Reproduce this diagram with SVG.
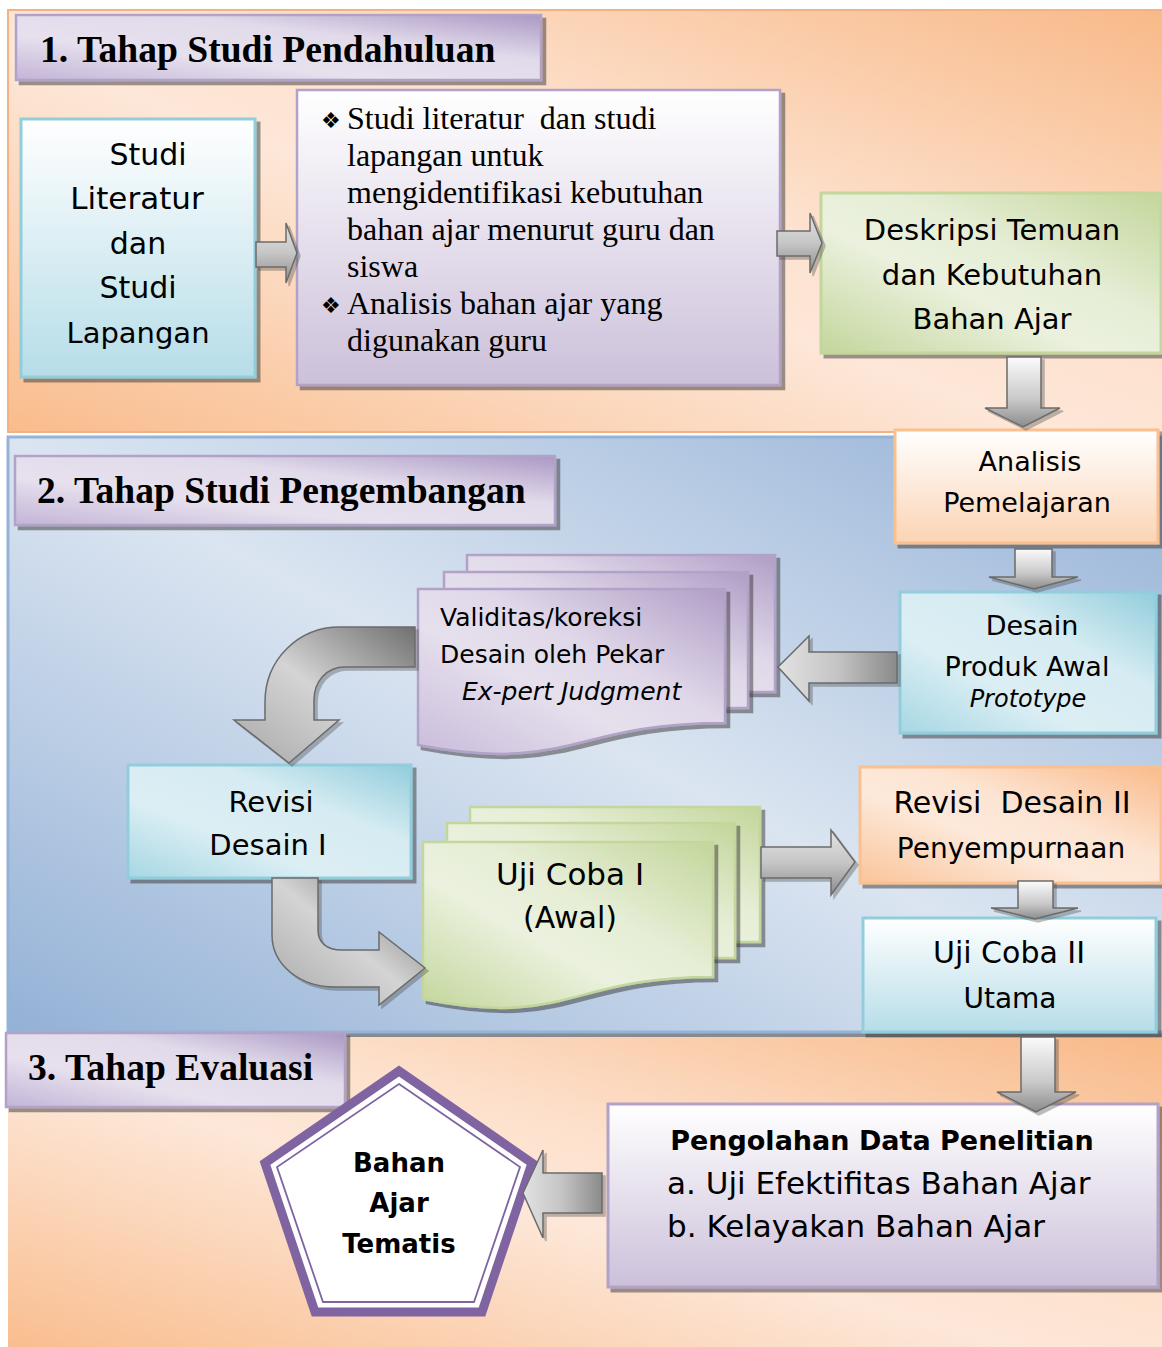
<svg xmlns="http://www.w3.org/2000/svg" width="1162" height="1347" viewBox="0 0 1162 1347">
<defs>
<style>
.hd{font-family:"Liberation Serif",serif;font-weight:bold;font-size:37.6px;fill:#000}
.tm{font-family:"Liberation Serif",serif;font-size:32px;fill:#000;white-space:pre}
.bl{font-family:"DejaVu Sans",sans-serif;font-size:22px}
.c{font-family:"DejaVu Sans",sans-serif;fill:#000;text-anchor:middle;white-space:pre}
.l{font-family:"DejaVu Sans",sans-serif;fill:#000;white-space:pre}
.arr{stroke:#6b6b6b;stroke-width:1.5;stroke-linejoin:miter}
</style>
<filter id="sh" x="-10%" y="-10%" width="125%" height="130%">
<feOffset in="SourceAlpha" dx="4" dy="4" result="o"/>
<feFlood flood-color="#3a3a3a" flood-opacity="0.5"/>
<feComposite in2="o" operator="in"/>
<feMerge><feMergeNode/><feMergeNode in="SourceGraphic"/></feMerge>
</filter>
<filter id="sha" x="-10%" y="-10%" width="130%" height="130%">
<feOffset in="SourceAlpha" dx="3" dy="3" result="o"/>
<feFlood flood-color="#404040" flood-opacity="0.35"/>
<feComposite in2="o" operator="in"/>
<feMerge><feMergeNode/><feMergeNode in="SourceGraphic"/></feMerge>
</filter>
<linearGradient id="gSecOr" x1="0" y1="1" x2="1" y2="0">
<stop offset="0" stop-color="#f9bc8c"/><stop offset="0.45" stop-color="#fde7d8"/><stop offset="0.6" stop-color="#fde1cd"/><stop offset="1" stop-color="#f8b988"/>
</linearGradient>
<linearGradient id="gSecBl" x1="0" y1="1" x2="1" y2="0">
<stop offset="0" stop-color="#93b1d6"/><stop offset="0.5" stop-color="#dbe5f1"/><stop offset="1" stop-color="#93b1d6"/>
</linearGradient>
<linearGradient id="gHead" x1="0" y1="1" x2="1" y2="0">
<stop offset="0" stop-color="#c3b4d7"/><stop offset="0.35" stop-color="#e7e1ee"/><stop offset="0.65" stop-color="#e1daea"/><stop offset="1" stop-color="#ab98c4"/>
</linearGradient>
<linearGradient id="gVPu" x1="0" y1="0" x2="0" y2="1"><stop offset="0" stop-color="#ffffff"/><stop offset="1" stop-color="#ccc0da"/></linearGradient>
<linearGradient id="gVCy" x1="0" y1="0" x2="0" y2="1"><stop offset="0" stop-color="#ffffff"/><stop offset="1" stop-color="#b6dde8"/></linearGradient>
<linearGradient id="gVOr" x1="0" y1="0" x2="0" y2="1"><stop offset="0" stop-color="#ffffff"/><stop offset="1" stop-color="#fbd4b4"/></linearGradient>
<linearGradient id="gDCy" x1="0" y1="1" x2="1" y2="0"><stop offset="0" stop-color="#a6d7e3"/><stop offset="0.35" stop-color="#dbeef4"/><stop offset="0.65" stop-color="#d6ecf2"/><stop offset="1" stop-color="#92cddc"/></linearGradient>
<linearGradient id="gDOr" x1="0" y1="1" x2="1" y2="0"><stop offset="0" stop-color="#fac49a"/><stop offset="0.4" stop-color="#fde9da"/><stop offset="0.6" stop-color="#fde4d2"/><stop offset="1" stop-color="#f9bb8b"/></linearGradient>
<linearGradient id="gDGr" x1="0" y1="1" x2="1" y2="0"><stop offset="0" stop-color="#c3d69b"/><stop offset="0.4" stop-color="#ebf1de"/><stop offset="0.6" stop-color="#e6eed6"/><stop offset="1" stop-color="#c3d69b"/></linearGradient>
<linearGradient id="gDPu" x1="0" y1="1" x2="1" y2="0"><stop offset="0" stop-color="#c9bcdb"/><stop offset="0.4" stop-color="#e6e0ed"/><stop offset="0.6" stop-color="#e0d8e9"/><stop offset="1" stop-color="#b09ec6"/></linearGradient>
<linearGradient id="gArH" x1="0" y1="0" x2="0" y2="1"><stop offset="0" stop-color="#e4e4e4"/><stop offset="0.5" stop-color="#c6c6c6"/><stop offset="1" stop-color="#8c8c8c"/></linearGradient>
<linearGradient id="gArL" x1="0" y1="0" x2="1" y2="0"><stop offset="0" stop-color="#e2e2e2"/><stop offset="0.5" stop-color="#c4c4c4"/><stop offset="1" stop-color="#8a8a8a"/></linearGradient>
<linearGradient id="gArV" x1="0" y1="0" x2="0" y2="1"><stop offset="0" stop-color="#fbfbfb"/><stop offset="0.6" stop-color="#c9c9c9"/><stop offset="1" stop-color="#8c8c8c"/></linearGradient>
<linearGradient id="gArC" x1="1" y1="0" x2="0" y2="1"><stop offset="0" stop-color="#707070"/><stop offset="0.5" stop-color="#d4d4d4"/><stop offset="1" stop-color="#a8a8a8"/></linearGradient>
</defs>

<g id="backgrounds">
<rect x="8" y="10" width="1160" height="422" fill="url(#gSecOr)" stroke="#f4b183" stroke-width="2"/>
<rect x="8" y="1032" width="1160" height="5" fill="#868b92"/>
<rect x="8" y="437" width="1160" height="595" fill="url(#gSecBl)" stroke="#95b3d7" stroke-width="3"/>
<rect x="8" y="1037" width="1160" height="320" fill="url(#gSecOr)"/>
</g>

<g id="header-1">
<rect x="16" y="15" width="525" height="65" fill="url(#gHead)" stroke="#b3a2c7" stroke-width="2.5" filter="url(#sh)"/>
<text class="hd" x="40" y="62">1. Tahap Studi Pendahuluan</text>
</g>

<g id="studi-literatur">
<rect x="21" y="119" width="234" height="258" fill="url(#gVCy)" stroke="#92cddc" stroke-width="3" filter="url(#sh)"/>
<text class="c" font-size="30" x="148" y="165">Studi</text>
<text class="c" font-size="31" x="137" y="209">Literatur</text>
<text class="c" font-size="30" x="138" y="254">dan</text>
<text class="c" font-size="30" x="138" y="298">Studi</text>
<text class="c" font-size="29" x="138" y="343">Lapangan</text>
</g>

<g id="kegiatan">
<rect x="297" y="90" width="483" height="295" fill="url(#gVPu)" stroke="#b3a2c7" stroke-width="2.5" filter="url(#sh)"/>
<text class="bl" x="321" y="128">❖</text>
<text class="tm" x="347" y="129">Studi literatur  dan studi</text>
<text class="tm" x="347" y="166">lapangan untuk</text>
<text class="tm" x="347" y="203">mengidentifikasi kebutuhan</text>
<text class="tm" x="347" y="240">bahan ajar menurut guru dan</text>
<text class="tm" x="347" y="277">siswa</text>
<text class="bl" x="321" y="313">❖</text>
<text class="tm" x="347" y="314">Analisis bahan ajar yang</text>
<text class="tm" x="347" y="351">digunakan guru</text>
</g>

<g id="deskripsi">
<rect x="821" y="193" width="340" height="160" fill="url(#gDGr)" stroke="#c3d69b" stroke-width="3" filter="url(#sh)"/>
<text class="c" font-size="29" x="992" y="240">Deskripsi Temuan</text>
<text class="c" font-size="29" x="992" y="285">dan Kebutuhan</text>
<text class="c" font-size="29" x="992" y="329">Bahan Ajar</text>
</g>

<g id="header-2">
<rect x="15" y="456" width="540" height="69" fill="url(#gHead)" stroke="#b3a2c7" stroke-width="2.5" filter="url(#sh)"/>
<text class="hd" x="37" y="503">2. Tahap Studi Pengembangan</text>
</g>

<g id="analisis">
<rect x="895" y="430" width="263" height="113" fill="url(#gVOr)" stroke="#fac090" stroke-width="3" filter="url(#sh)"/>
<text class="c" font-size="27" x="1030" y="471">Analisis</text>
<text class="c" font-size="27" x="1027" y="512">Pemelajaran</text>
</g>

<g id="desain-produk">
<rect x="900" y="592" width="256" height="141" fill="url(#gDCy)" stroke="#92cddc" stroke-width="3" filter="url(#sh)"/>
<text class="c" font-size="27" x="1032" y="635">Desain</text>
<text class="c" font-size="27" x="1027" y="676">Produk Awal</text>
<text class="c" x="1028" y="707" font-family="Liberation Sans, sans-serif" font-style="italic" font-size="24">Prototype</text>
</g>

<g id="validitas">
<rect x="467" y="555" width="308" height="137" fill="url(#gDPu)" stroke="#b3a2c7" stroke-width="2.5" filter="url(#sh)"/>
<rect x="444" y="572" width="304" height="136" fill="url(#gDPu)" stroke="#b3a2c7" stroke-width="2.5" filter="url(#sh)"/>
<path d="M418,589 H725 V723 C571,723 571,774 418,745 Z" fill="url(#gDPu)" stroke="#b3a2c7" stroke-width="2.5" filter="url(#sh)"/>
<text class="l" font-size="25" x="440" y="626">Validitas/koreksi</text>
<text class="l" font-size="25" x="440" y="663">Desain oleh Pekar</text>
<text class="l" font-size="25" x="462" y="700" font-style="italic">Ex-pert Judgment</text>
</g>

<g id="revisi-desain-1">
<rect x="128" y="765" width="283" height="113" fill="url(#gDCy)" stroke="#92cddc" stroke-width="3" filter="url(#sh)"/>
<text class="c" font-size="29" x="271" y="812">Revisi</text>
<text class="c" font-size="29" x="268" y="855">Desain I</text>
</g>

<g id="uji-coba-1">
<rect x="470" y="807" width="290" height="135" fill="url(#gDGr)" stroke="#c3d69b" stroke-width="2.5" filter="url(#sh)"/>
<rect x="447" y="823" width="288" height="135" fill="url(#gDGr)" stroke="#c3d69b" stroke-width="2.5" filter="url(#sh)"/>
<path d="M423,842 H713 V977 C568,977 568,1028 423,999 Z" fill="url(#gDGr)" stroke="#c3d69b" stroke-width="2.5" filter="url(#sh)"/>
<text class="c" font-size="31" x="570" y="885">Uji Coba I</text>
<text class="c" font-size="30" x="570" y="928">(Awal)</text>
</g>

<g id="revisi-desain-2">
<rect x="860" y="767" width="301" height="116" fill="url(#gDOr)" stroke="#fac090" stroke-width="3" filter="url(#sh)"/>
<text class="c" font-size="30" x="1012" y="813">Revisi  Desain II</text>
<text class="c" font-size="28" x="1011" y="858">Penyempurnaan</text>
</g>

<g id="uji-coba-2">
<rect x="863" y="918" width="293" height="114" fill="url(#gVCy)" stroke="#92cddc" stroke-width="3" filter="url(#sh)"/>
<text class="c" font-size="30" x="1009" y="963">Uji Coba II</text>
<text class="c" font-size="28" x="1010" y="1008">Utama</text>
</g>

<g id="header-3">
<rect x="6" y="1033" width="339" height="74" fill="url(#gHead)" stroke="#b3a2c7" stroke-width="2.5" filter="url(#sh)"/>
<text class="hd" x="28" y="1080">3. Tahap Evaluasi</text>
</g>

<g id="pengolahan">
<rect x="608" y="1104" width="550" height="183" fill="url(#gVPu)" stroke="#b3a2c7" stroke-width="3" filter="url(#sh)"/>
<text class="c" font-size="27" font-weight="bold" x="882" y="1150">Pengolahan Data Penelitian</text>
<text class="l" font-size="31" x="667" y="1194">a. Uji Efektifitas Bahan Ajar</text>
<text class="l" font-size="31" x="667" y="1237">b. Kelayakan Bahan Ajar</text>
</g>

<g id="bahan-ajar-tematis">
<polygon points="399,1071 532,1163 482,1312 315,1312 265,1163" fill="#ffffff" stroke="#8064a2" stroke-width="9" stroke-linejoin="miter"/>
<polygon points="399,1084 520,1167 474,1302 323,1302 277,1167" fill="none" stroke="#8064a2" stroke-width="1.8"/>
<text class="c" font-size="26" font-weight="bold" x="399" y="1172">Bahan</text>
<text class="c" font-size="26" font-weight="bold" x="399" y="1212">Ajar</text>
<text class="c" font-size="26" font-weight="bold" x="399" y="1253">Tematis</text>
</g>

<g id="connectors">
<path class="arr" d="M256,242 H286 V223 L297,253 L286,283 V267 H256 Z" fill="url(#gArH)" filter="url(#sha)"/>
<path class="arr" d="M777,231 H810 V213 L822,243 L810,273 V256 H777 Z" fill="url(#gArH)" filter="url(#sha)"/>
<path class="arr" d="M1007,357 H1041 V408 H1060 L1023,427 L985,408 H1007 Z" fill="url(#gArV)" filter="url(#sha)"/>
<path class="arr" d="M1015,549 H1052 V577 H1078 L1034,589 L989,577 H1015 Z" fill="url(#gArV)" filter="url(#sha)"/>
<path class="arr" d="M897,652 H809 V636 L778,667 L809,701 V683 H897 Z" fill="url(#gArL)" filter="url(#sha)"/>
<path class="arr" d="M415,627 H340 C298,627 265,660 265,702 V720 H234 L289,763 L339,720 H314 V700 C314,682 326,667 345,667 H415 Z" fill="url(#gArC)" filter="url(#sha)"/>
<path class="arr" d="M272,878 H318 V930 C318,943 327,950 342,950 H379 V932 L425,968 L379,1005 V987 H335 C300,987 272,965 272,935 Z" fill="url(#gArC)" filter="url(#sha)"/>
<path class="arr" d="M761,847 H831 V830 L855,862 L831,895 V878 H761 Z" fill="url(#gArH)" filter="url(#sha)"/>
<path class="arr" d="M1018,881 H1053 V908 H1078 L1035,919 L991,908 H1018 Z" fill="url(#gArV)" filter="url(#sha)"/>
<path class="arr" d="M1021,1037 H1055 V1092 H1076 L1036,1112 L997,1092 H1021 Z" fill="url(#gArV)" filter="url(#sha)"/>
<path class="arr" d="M602,1173 H543 V1150 L523,1193 L543,1238 V1213 H602 Z" fill="url(#gArL)" filter="url(#sha)"/>
</g>
</svg>
